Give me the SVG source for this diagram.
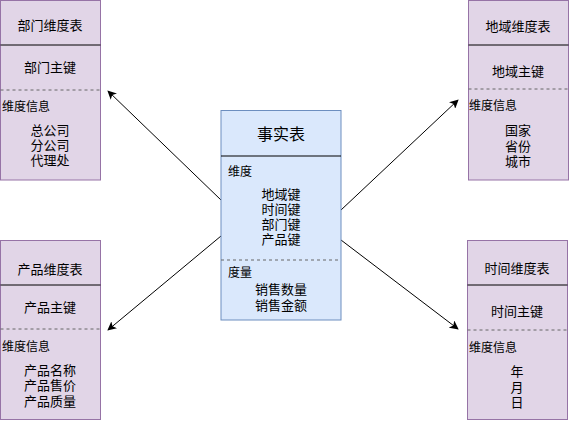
<svg xmlns="http://www.w3.org/2000/svg" width="570" height="421" viewBox="0 0 570 421">
<defs>
<style>
.dim{fill:#e1d5e7;stroke:#9673a6;stroke-width:1}
.fact{fill:#dae8fc;stroke:#6c8ebf;stroke-width:1}
.div{stroke:#000;stroke-width:1}
.dash{stroke:#666;stroke-width:1;stroke-dasharray:3 3}
text{font-family:"Noto Sans CJK SC","Liberation Sans",sans-serif;font-size:13px;fill:#000;dominant-baseline:central}
.c{text-anchor:middle}
.s{font-size:12px}
.title{font-size:16px}
.edge{stroke:#000;stroke-width:1;fill:none;marker-end:url(#arrow)}
</style>
<marker id="arrow" viewBox="0 0 10 10" refX="9" refY="5" markerWidth="9" markerHeight="9" orient="auto" markerUnits="userSpaceOnUse">
<path d="M0,0 L10,5 L0,10 L2.5,5 Z" fill="#000"/>
</marker>
</defs>
<rect width="570" height="421" fill="#fff"/>

<g id="edges">
<line class="edge" x1="221" y1="200" x2="108" y2="91"/>
<line class="edge" x1="221" y1="236" x2="108" y2="330"/>
<line class="edge" x1="341" y1="210" x2="458" y2="100"/>
<line class="edge" x1="341" y1="240" x2="458" y2="329"/>
</g>

<g id="dept">
<rect class="dim" x="0.5" y="0.5" width="100" height="179.5"/>
<line class="div" x1="0.5" y1="45" x2="100.5" y2="45"/>
<line class="dash" x1="0.5" y1="90" x2="100.5" y2="90"/>
<text class="c" x="50" y="24">部门维度表</text>
<text class="c" x="50" y="66">部门主键</text>
<text class="s" x="2" y="105">维度信息</text>
<text class="c" x="50" y="129">总公司</text>
<text class="c" x="50" y="144">分公司</text>
<text class="c" x="50" y="159">代理处</text>
</g>

<g id="region">
<rect class="dim" x="468.5" y="0.5" width="100" height="179.5"/>
<line class="div" x1="468.5" y1="45" x2="568.5" y2="45"/>
<line class="dash" x1="468.5" y1="89" x2="568.5" y2="89"/>
<text class="c" x="518" y="25">地域维度表</text>
<text class="c" x="518" y="70">地域主键</text>
<text class="s" x="469" y="104">维度信息</text>
<text class="c" x="518" y="129">国家</text>
<text class="c" x="518" y="145">省份</text>
<text class="c" x="518" y="160">城市</text>
</g>

<g id="product">
<rect class="dim" x="0.5" y="240.5" width="100" height="179"/>
<line class="div" x1="0.5" y1="285" x2="100.5" y2="285"/>
<line class="dash" x1="0.5" y1="329" x2="100.5" y2="329"/>
<text class="c" x="50" y="268">产品维度表</text>
<text class="c" x="50" y="306">产品主键</text>
<text class="s" x="2" y="345">维度信息</text>
<text class="c" x="50" y="369">产品名称</text>
<text class="c" x="50" y="384">产品售价</text>
<text class="c" x="50" y="400">产品质量</text>
</g>

<g id="time">
<rect class="dim" x="467.5" y="240.5" width="100" height="179"/>
<line class="div" x1="467.5" y1="285" x2="567.5" y2="285"/>
<line class="dash" x1="467.5" y1="330" x2="567.5" y2="330"/>
<text class="c" x="517" y="267">时间维度表</text>
<text class="c" x="517" y="310">时间主键</text>
<text class="s" x="469" y="346">维度信息</text>
<text class="c" x="517" y="370">年</text>
<text class="c" x="517" y="386">月</text>
<text class="c" x="517" y="401">日</text>
</g>

<g id="fact">
<rect class="fact" x="221" y="110.5" width="120" height="209.5"/>
<line class="div" x1="221" y1="156" x2="341" y2="156"/>
<line class="dash" x1="221" y1="260" x2="341" y2="260"/>
<text class="c title" x="281" y="133">事实表</text>
<text class="s" x="228" y="170">维度</text>
<text class="c" x="281" y="193">地域键</text>
<text class="c" x="281" y="208">时间键</text>
<text class="c" x="281" y="223">部门键</text>
<text class="c" x="281" y="238">产品键</text>
<text class="s" x="228" y="271">度量</text>
<text class="c" x="281" y="288">销售数量</text>
<text class="c" x="281" y="304">销售金额</text>
</g>
</svg>
